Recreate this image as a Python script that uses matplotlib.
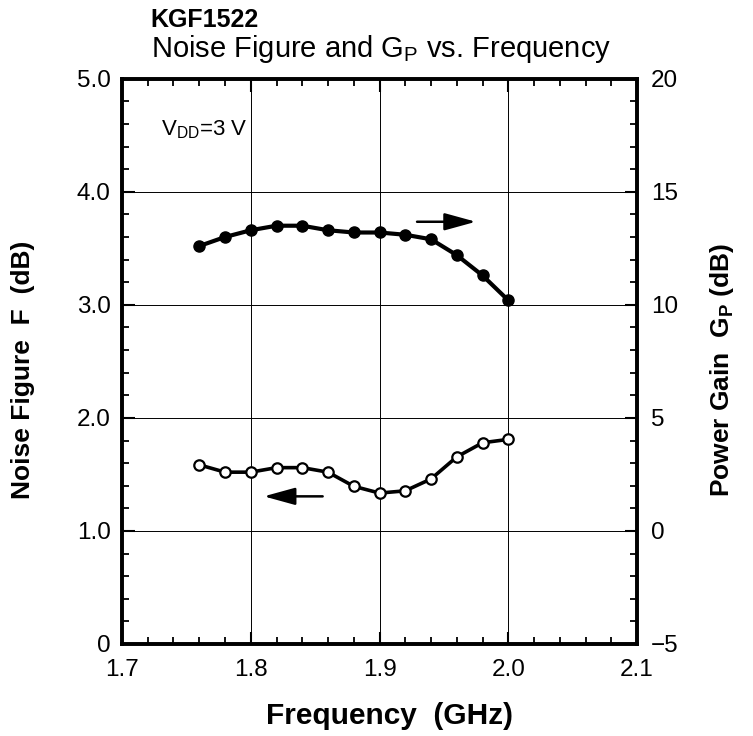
import matplotlib
matplotlib.use("Agg")
import matplotlib.pyplot as plt
from matplotlib.ticker import MultipleLocator, FixedLocator

plt.rcParams['font.family'] = ['Liberation Sans', 'DejaVu Sans']
plt.rcParams['mathtext.fontset'] = 'custom'
plt.rcParams['mathtext.rm'] = 'Liberation Sans'
plt.rcParams['mathtext.it'] = 'Liberation Sans:italic'
plt.rcParams['mathtext.bf'] = 'Liberation Sans:bold'

# Data
freq = [1.76, 1.78, 1.80, 1.82, 1.84, 1.86, 1.88, 1.90, 1.92, 1.94, 1.96, 1.98, 2.00]
noise_fig = [1.585, 1.52, 1.52, 1.56, 1.56, 1.52, 1.395, 1.335, 1.355, 1.46, 1.655, 1.78, 1.81]
power_gain = [12.6, 13.0, 13.3, 13.5, 13.5, 13.3, 13.2, 13.2, 13.1, 12.9, 12.2, 11.3, 10.2]

x_ticks = [1.7, 1.8, 1.9, 2.0, 2.1]
x_labels = ["1.7", "1.8", "1.9", "2.0", "2.1"]
nf_ticks = [0, 1, 2, 3, 4, 5]
nf_labels = ["0", "1.0", "2.0", "3.0", "4.0", "5.0"]
gp_ticks = [-5, 0, 5, 10, 15, 20]
gp_labels = ["\u22125", "0", "5", "10", "15", "20"]

fig = plt.figure(figsize=(7.53, 7.36), dpi=100)
ax = fig.add_axes([0.162, 0.125, 0.684, 0.768])
ax2 = ax.twinx()

ax.set_xlim(1.7, 2.1)
ax.set_ylim(0, 5)
ax2.set_ylim(-5, 20)

ax.xaxis.set_major_locator(FixedLocator(x_ticks))
ax.set_xticklabels(x_labels, fontsize=17.5)
ax.xaxis.set_minor_locator(MultipleLocator(0.02))
ax.yaxis.set_major_locator(FixedLocator(nf_ticks))
ax.set_yticklabels(nf_labels, fontsize=17.5)
ax.yaxis.set_minor_locator(MultipleLocator(0.2))
ax2.yaxis.set_major_locator(FixedLocator(gp_ticks))
ax2.set_yticklabels(gp_labels, fontsize=17.5)
ax2.yaxis.set_minor_locator(MultipleLocator(1))

for a in (ax, ax2):
    for s in a.spines.values():
        s.set_linewidth(2.6)
ax.tick_params(axis='both', which='major', direction='in', length=9, width=1.5, top=True)
ax.tick_params(axis='both', which='minor', direction='in', length=5, width=1.3, top=True)
ax.tick_params(axis='x', which='major', pad=11)
ax.tick_params(axis='y', which='major', pad=8)
ax.tick_params(axis='y', which='both', right=False)
ax2.tick_params(axis='y', which='major', direction='in', length=9, width=1.5, pad=10)
ax2.tick_params(axis='y', which='minor', direction='in', length=5, width=1.3)

ax.grid(True, which='major', color='black', linewidth=0.7)
ax.set_axisbelow(True)

ax.plot(freq, noise_fig, color='black', linewidth=2.6, marker='o', markersize=7.5,
        markerfacecolor='white', markeredgecolor='black', markeredgewidth=1.6, zorder=5)
ax2.plot(freq, power_gain, color='black', linewidth=3.0, marker='o', markersize=8,
         markerfacecolor='black', markeredgecolor='black', zorder=5)

astyle = '-|>,head_length=0.8,head_width=0.22'
ax.annotate("", xy=(1.977, 3.735), xytext=(1.927, 3.735),
            arrowprops=dict(arrowstyle=astyle, mutation_scale=24, lw=1.8, color='black'))
ax.annotate("", xy=(1.808, 1.306), xytext=(1.858, 1.306),
            arrowprops=dict(arrowstyle=astyle, mutation_scale=24, lw=1.8, color='black'))

ax.text(1.73, 4.55, r"V$_{\rm DD}$=3 V", fontsize=16, va='center', ha='left')

ax.set_xlabel("Frequency  (GHz)", fontsize=21.5, fontweight='bold', labelpad=15, x=0.52)
ax.set_ylabel("Noise Figure  F  (dB)", fontsize=19, fontweight='bold', labelpad=30, y=0.485)
ax2.set_ylabel(r"Power Gain  G$_\mathbf{P}$ (dB)", fontsize=19, fontweight='bold',
               labelpad=21, y=0.485)

fig.text(0.2, 0.963, "KGF1522", fontsize=18, fontweight='bold', ha='left', va='baseline')
fig.text(0.2, 0.922, r"Noise Figure and G$_{\rm P}$ vs. Frequency", fontsize=21,
         ha='left', va='baseline')

fig.savefig("out.png", dpi=100)
